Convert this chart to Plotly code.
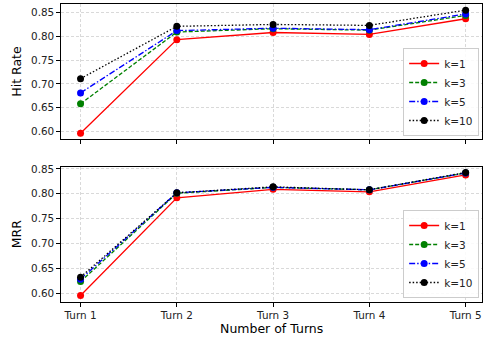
import plotly.graph_objects as go

turns = ["Turn 1", "Turn 2", "Turn 3", "Turn 4", "Turn 5"]
series_names = ["k=1", "k=3", "k=5", "k=10"]

hit_k1 = [0.596, 0.793, 0.808, 0.804, 0.837]
hit_k3 = [0.658, 0.809, 0.816, 0.813, 0.844]
hit_k5 = [0.681, 0.812, 0.817, 0.814, 0.847]
hit_k10 = [0.711, 0.821, 0.825, 0.823, 0.855]

mrr_k1 = [0.595, 0.792, 0.809, 0.804, 0.838]
mrr_k3 = [0.623, 0.801, 0.813, 0.808, 0.842]
mrr_k5 = [0.628, 0.802, 0.813, 0.808, 0.842]
mrr_k10 = [0.632, 0.802, 0.814, 0.808, 0.843]

colors = ["red", "green", "blue", "black"]
dashes = ["solid", "4px,2px", "6px,2px,1.5px,2px", "1.5px,2px"]

FONT = "DejaVu Sans"
fig = go.Figure()

xi = list(range(len(turns)))
for vals, name, c, d in zip([hit_k1, hit_k3, hit_k5, hit_k10], series_names, colors, dashes):
    fig.add_trace(go.Scatter(x=xi, y=vals, name=name, mode="lines+markers",
                             line=dict(color=c, width=1.3, dash=d),
                             marker=dict(color=c, size=7),
                             xaxis="x", yaxis="y", legend="legend"))
for vals, name, c, d in zip([mrr_k1, mrr_k3, mrr_k5, mrr_k10], series_names, colors, dashes):
    fig.add_trace(go.Scatter(x=xi, y=vals, name=name, mode="lines+markers",
                             line=dict(color=c, width=1.3, dash=d),
                             marker=dict(color=c, size=7),
                             xaxis="x2", yaxis="y2", legend="legend2"))

xdom = [61.3 / 484, 482 / 484]
axis_common = dict(showline=True, linecolor="black", linewidth=1, mirror=True,
                   ticks="outside", ticklen=4, tickcolor="black",
                   showgrid=True, gridcolor="#d9d9d9", griddash="3px,2px", gridwidth=0.8,
                   zeroline=False, tickfont=dict(family=FONT, size=10.4, color="#222"))

leg_common = dict(bgcolor="rgba(255,255,255,0.85)", bordercolor="#cccccc", borderwidth=1,
                  font=dict(family=FONT, size=10.5, color="#222"), xanchor="right",
                  yanchor="bottom", tracegroupgap=0, itemwidth=30)

fig.update_layout(
    width=484, height=340,
    margin=dict(l=0, r=0, t=0, b=0, autoexpand=False),
    plot_bgcolor="white", paper_bgcolor="white",
    font=dict(family=FONT, color="black"),
    xaxis=dict(axis_common, domain=xdom, anchor="y", range=[-0.2, 4.17],
               tickvals=xi, ticktext=turns, showticklabels=False),
    yaxis=dict(axis_common, domain=[(340 - 139) / 340, (340 - 4) / 340], anchor="x",
               range=[0.584, 0.868], tickvals=[0.60, 0.65, 0.70, 0.75, 0.80, 0.85],
               tickformat=".2f",
               title=dict(text="Hit Rate", font=dict(family=FONT, size=12.5), standoff=6)),
    xaxis2=dict(axis_common, domain=xdom, anchor="y2", range=[-0.2, 4.17],
                tickvals=xi, ticktext=turns,
                title=dict(text="Number of Turns", font=dict(family=FONT, size=12.5), standoff=4)),
    yaxis2=dict(axis_common, domain=[(340 - 301.7) / 340, (340 - 166.7) / 340], anchor="x2",
                range=[0.5825, 0.8546], tickvals=[0.60, 0.65, 0.70, 0.75, 0.80, 0.85],
                tickformat=".2f",
                title=dict(text="MRR", font=dict(family=FONT, size=12.5), standoff=6)),
    legend=dict(leg_common, x=0.99, y=(340 - 136) / 340),
    legend2=dict(leg_common, x=0.99, y=(340 - 298) / 340),
)

fig.write_html("out.html", config={"displayModeBar": False},
               post_script="document.body.style.margin='0';document.body.style.overflow='hidden';")
